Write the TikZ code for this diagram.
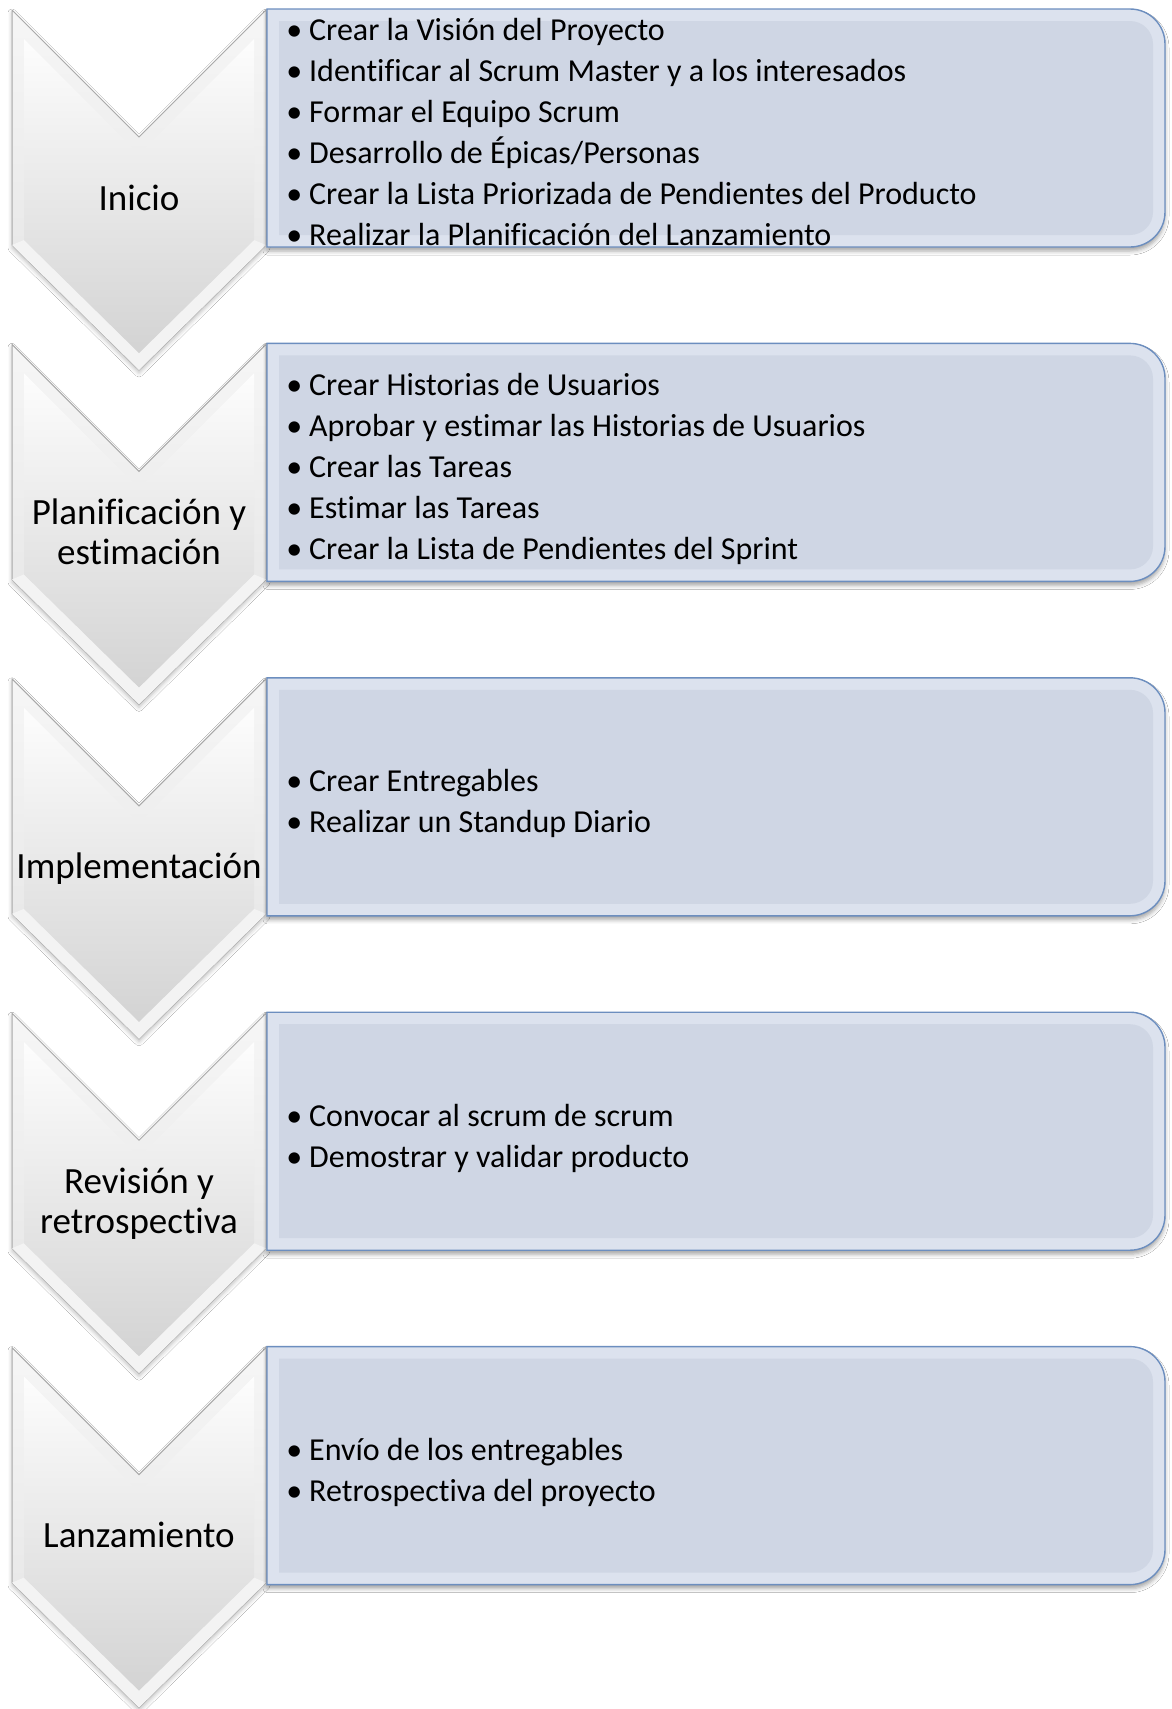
\documentclass[tikz,border=0pt]{standalone}
\usepackage{fontspec}
\setmainfont[Ligatures={NoCommon,NoContextual}]{Carlito}
\usetikzlibrary{shadows.blur}

\definecolor{chevedge}{HTML}{A9A9A9}
\definecolor{chevrimtop}{HTML}{F6F6F6}
\definecolor{chevrimbot}{HTML}{E2E2E2}
\definecolor{chevtop}{HTML}{FDFDFD}
\definecolor{chevbot}{HTML}{D3D3D3}
\definecolor{chevlow}{HTML}{F3F3F3}
\definecolor{boxrim}{HTML}{DCE2EE}
\definecolor{boxfill}{HTML}{CFD6E4}
\definecolor{boxedge}{HTML}{6C8EBF}

\tikzset{
  chevron/.style={draw=chevedge, line width=1pt, top color=chevrimtop, bottom color=chevrimbot,
    blur shadow={shadow xshift=0pt, shadow yshift=-3pt, shadow blur radius=4pt, shadow opacity=25}},
  chevronface/.style={top color=chevtop, bottom color=chevbot},
  chevronlow/.style={fill=chevlow},
  listbox/.style={draw=boxedge, line width=1.4pt, fill=boxrim,
    blur shadow={shadow xshift=0pt, shadow yshift=-4pt, shadow blur radius=4pt, shadow opacity=35}},
  listface/.style={fill=boxfill},
  phaselabel/.style={font=\fontsize{37}{40}\selectfont, inner sep=0pt, anchor=base},
  bulletlist/.style={font=\fontsize{32}{41}\selectfont, inner sep=0pt, anchor=base west},
}

% bullet hanging to the left of each list row
\newcommand\bl{\llap{•\hspace{7pt}}}

% #1 index, #2 name, #3 label rows, #4 label row count, #5 list rows, #6 list row count
\newcommand\scrumphase[6]{%
  \pgfmathsetmacro\phTop{10+334.4*#1}%
  \pgfmathsetmacro\phBox{9+334.4*#1}%
  \pgfmathsetmacro\phLab{\phTop+200-20*(#4-1)}%
  \pgfmathsetmacro\phList{\phBox+119+15.4-20.5*(#6-1)}%
  % chevron with bevelled rim
  \path[chevron] (12,\phTop) -- (139,\phTop+127) -- (266,\phTop) -- (266,\phTop+235)
    -- (139,\phTop+360) -- (12,\phTop+235) -- cycle;
  \path[chevronlow] (12,\phTop+235) -- (139,\phTop+360) -- (266,\phTop+235)
    -- (254,\phTop+230) -- (139,\phTop+343) -- (24,\phTop+230) -- cycle;
  \path[chevronface] (24,\phTop+29) -- (139,\phTop+144) -- (254,\phTop+29) -- (254,\phTop+230)
    -- (139,\phTop+343) -- (24,\phTop+230) -- cycle;
  % list box, rounded on the right
  \path[listbox] (267,\phBox) -- (1130,\phBox) arc[start angle=-90, end angle=0, radius=35]
    -- (1165,\phBox+203) arc[start angle=0, end angle=90, radius=35]
    -- (267,\phBox+238) -- cycle;
  \path[listface] (279,\phBox+12) -- (1130,\phBox+12) arc[start angle=-90, end angle=0, radius=23]
    -- (1153,\phBox+203) arc[start angle=0, end angle=90, radius=23]
    -- (279,\phBox+226) -- cycle;
  \node[phaselabel] (#2-label) at (139,\phLab)
    {\begin{tabular}[t]{@{}c@{}}#3\end{tabular}};
  \node[bulletlist] (#2-list) at (309,\phList)
    {\begin{tabular}[t]{@{}l@{}}#5\end{tabular}};
}

\begin{document}
\begin{tikzpicture}[x=1pt, y=-1pt]
  \fill[white] (0,0) rectangle (1172,1709);
  \useasboundingbox (0,0) rectangle (1172,1709);

  \scrumphase{0}{inicio}{Inicio}{1}
    {\bl Crear la Visión del Proyecto\\
     \bl Identificar al Scrum Master y a los interesados\\
     \bl Formar el Equipo Scrum\\
     \bl Desarrollo de Épicas/Personas\\
     \bl Crear la Lista Priorizada de Pendientes del Producto\\
     \bl Realizar la Planificación del Lanzamiento}{6}

  \scrumphase{1}{plan}{Planificación y\\estimación}{2}
    {\bl Crear Historias de Usuarios\\
     \bl Aprobar y estimar las Historias de Usuarios\\
     \bl Crear las Tareas\\
     \bl Estimar las Tareas\\
     \bl Crear la Lista de Pendientes del Sprint}{5}

  \scrumphase{2}{impl}{Implementación}{1}
    {\bl Crear Entregables\\
     \bl Realizar un Standup Diario}{2}

  \scrumphase{3}{rev}{Revisión y\\retrospectiva}{2}
    {\bl Convocar al scrum de scrum\\
     \bl Demostrar y validar producto}{2}

  \scrumphase{4}{lanz}{Lanzamiento}{1}
    {\bl Envío de los entregables\\
     \bl Retrospectiva del proyecto}{2}
\end{tikzpicture}
\end{document}
